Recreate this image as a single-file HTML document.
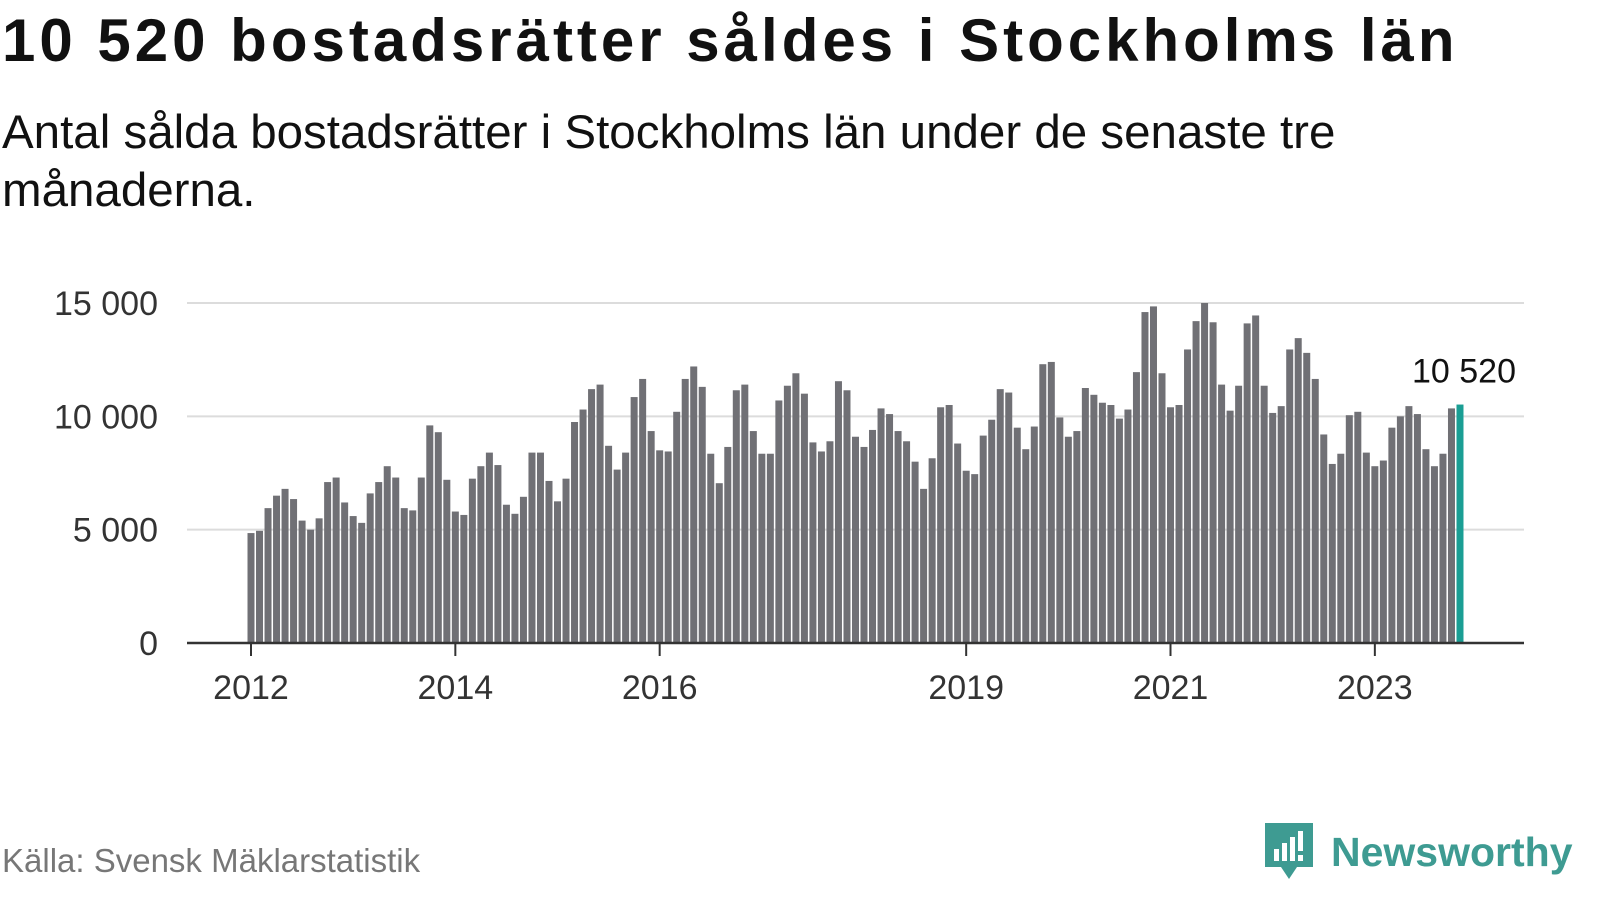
<!DOCTYPE html>
<html><head><meta charset="utf-8"><style>
body{margin:0;width:1600px;height:900px;background:#fff;font-family:"Liberation Sans",sans-serif;overflow:hidden;position:relative}
.t{position:absolute;left:2px;top:6px;font-size:60px;font-weight:bold;color:#111;letter-spacing:4px;white-space:nowrap}
.s{position:absolute;left:2px;top:104px;font-size:47.5px;color:#111;line-height:58px;width:1420px}
.f{position:absolute;left:2px;top:842px;font-size:33px;color:#777}
.logo{position:absolute;left:1265px;top:823px;display:flex;align-items:center}
.logo span{font-size:41px;font-weight:bold;color:#3e9b92;margin-left:16px}
</style></head><body>
<div class="t">10 520 bostadsrätter såldes i Stockholms län</div>
<div class="s">Antal sålda bostadsrätter i Stockholms län under de senaste tre månaderna.</div>
<svg id="c" width="1600" height="900" style="position:absolute;left:0;top:0"></svg>
<div class="f">Källa: Svensk Mäklarstatistik</div>
<div class="logo">
<svg width="50" height="58" viewBox="0 0 50 58"><path d="M0 0H48V44H32L24 56L16 44H0Z" fill="#3e9b92"/><rect x="9" y="26" width="5" height="12" fill="#fff"/><rect x="17" y="20" width="5" height="18" fill="#fff"/><rect x="25" y="14" width="5" height="24" fill="#fff"/><rect x="33" y="8" width="5" height="20" fill="#fff"/><rect x="33" y="32" width="5" height="6" fill="#fff"/></svg>
<span>Newsworthy</span></div>
<script>
const values=[4850,4950,5950,6500,6800,6350,5400,5000,5500,7100,7300,6200,
5600,5300,6600,7100,7800,7300,5950,5850,7300,9600,9300,7200,
5800,5650,7250,7800,8400,7850,6100,5700,6450,8400,8400,7150,
6250,7250,9750,10300,11200,11400,8700,7650,8400,10850,11650,9350,
8500,8450,10200,11650,12200,11300,8350,7050,8650,11150,11400,9350,
8350,8350,10700,11350,11900,11000,8850,8450,8900,11550,11150,9100,
8650,9400,10350,10100,9350,8900,8000,6800,8150,10400,10500,8800,
7600,7450,9150,9850,11200,11050,9500,8550,9550,12300,12400,9950,
9100,9350,11250,10950,10600,10500,9900,10300,11950,14600,14850,11900,
10400,10500,12950,14200,15000,14150,11400,10250,11350,14100,14450,11350,
10150,10450,12950,13450,12800,11650,9200,7900,8350,10050,10200,8400,
7800,8050,9500,10000,10450,10100,8550,7800,8350,10350,10520];
const yTicks=[0,5000,10000,15000];
const yLabels=["0","5 000","10 000","15 000"];
const xYears=[2012,2014,2016,2019,2021,2023];
const startYear=2012;
const lastLabel="10 520";
const svg=document.getElementById('c');const NS="http://www.w3.org/2000/svg";
const y=v=>643-v*340/15000;
const step=8.514;
const x=i=>251+i*step;
const xy=yr=>x((yr-startYear)*12);
function mk(t,a,txt){const e=document.createElementNS(NS,t);for(const k in a)e.setAttribute(k,a[k]);if(txt!=null)e.textContent=txt;svg.appendChild(e);return e;}
yTicks.forEach((v,i)=>{
 if(v>0){const g=mk('line',{x1:187,x2:1524,y1:y(v),y2:y(v),stroke:'#dcdcdc','stroke-width':2});
 
 }
 const t=mk('text',{x:158,y:y(v)+12,'text-anchor':'end','font-size':34,fill:'#333'},yLabels[i]);
 
 
});
values.forEach((v,i)=>{
 const last=i===values.length-1;
 const r=mk('rect',{x:x(i)-3.5,y:y(v),width:7,height:643-y(v),fill:last?'#1a9e94':'#707075'});
 
 
});
const ax=mk('line',{x1:187,x2:1524,y1:643,y2:643,stroke:'#333','stroke-width':2.5});


xYears.forEach(yr=>{
 const tk=mk('line',{x1:xy(yr),x2:xy(yr),y1:643,y2:656,stroke:'#333','stroke-width':2});
 
 
 const t=mk('text',{x:xy(yr),y:699,'text-anchor':'middle','font-size':34,fill:'#333'},String(yr));
 
 
});
const li=values.length-1;
const lb=mk('text',{x:x(li)+56,y:y(values[li])-22,'text-anchor':'end','font-size':34,fill:'#111'},lastLabel);


</script>
</body></html>
